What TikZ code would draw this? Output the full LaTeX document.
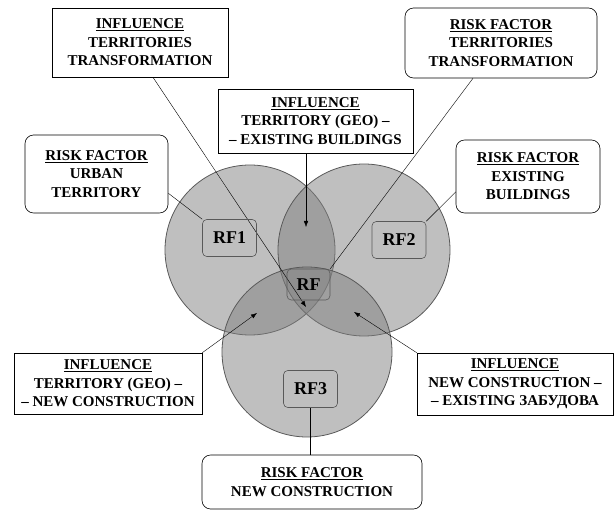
\documentclass[tikz,border=0pt]{standalone}
\usepackage{fontspec}
\setmainfont{Liberation Serif}
\usetikzlibrary{backgrounds,arrows.meta}

\begin{document}
\begin{tikzpicture}[x=1pt,y=-1pt,line width=0.6pt]
    % `infobox' is used for the INFLUENCE boxes (square corners).
    % `riskbox' is used for the RISK FACTOR boxes (rounded corners).
    % `rfbox' is used for the small RF labels inside the circles.
    % `zone' is used for the three grey circles.
    \tikzstyle{infobox} = [draw,fill=white,align=center,inner sep=0pt,font=\fontsize{15}{18.5}\selectfont\bfseries]
    \tikzstyle{riskbox} = [infobox,rounded corners=3mm]
    \tikzstyle{rfbox} = [draw=black!65,rounded corners=1.5mm,inner sep=0pt,minimum width=54pt,minimum height=37pt,font=\fontsize{18}{20}\selectfont\bfseries]
    \tikzstyle{zone} = [draw=black!65,line width=0.8pt,fill=black!50,fill opacity=0.5]
    \tikzstyle{pointer} = [-{Latex[length=6pt,width=4.5pt]}]
    %
    \useasboundingbox (0,0) rectangle (615,510);
    % Influence boxes.
    \node[infobox,minimum width=176pt,minimum height=69pt] (infTT) at (140,42.5)
      {\underline{INFLUENCE}\\TERRITORIES\\TRANSFORMATION};
    \node[infobox,minimum width=195pt,minimum height=64pt] (infGB) at (315.5,121)
      {\underline{INFLUENCE}\\TERRITORY (GEO) –\\– EXISTING BUILDINGS};
    \node[infobox,minimum width=188pt,minimum height=61pt] (infNC) at (108,383.5)
      {\underline{INFLUENCE}\\TERRITORY (GEO) –\\– NEW CONSTRUCTION};
    \node[infobox,minimum width=196pt,minimum height=62pt] (infEZ) at (515,384)
      {\underline{INFLUENCE}\\NEW CONSTRUCTION –\\– EXISTING ЗАБУДОВА};
    % Risk factor boxes.
    \node[riskbox,minimum width=143pt,minimum height=78pt] (rfUT) at (96.5,174)
      {\underline{RISK FACTOR}\\URBAN\\TERRITORY};
    \node[riskbox,minimum width=192pt,minimum height=70pt] (rfTT) at (501,43)
      {\underline{RISK FACTOR}\\TERRITORIES\\TRANSFORMATION};
    \node[riskbox,minimum width=144pt,minimum height=73pt] (rfEB) at (528,176.5)
      {\underline{RISK FACTOR}\\EXISTING\\BUILDINGS};
    \node[riskbox,minimum width=220pt,minimum height=54pt] (rfNC) at (312,482)
      {\underline{RISK FACTOR}\\NEW CONSTRUCTION};
    % RF labels.
    \node[rfbox] (rf1) at (229.5,238) {RF1};
    \node[rfbox] (rf2) at (399,240) {RF2};
    \node[rfbox,minimum width=43pt,minimum height=31pt] (rf) at (308.5,284.5) {RF};
    \node[rfbox] (rf3) at (310.5,389) {RF3};
    % Arrow tips.
    \coordinate (tipTT) at (306,307);
    \coordinate (tipGB) at (306,227);
    \coordinate (tipNC) at (257,313);
    \coordinate (tipEZ) at (354,312);
    \begin{pgfonlayer}{background}
        % Draw circles.
        \path[zone] (250,250) circle[radius=85pt];
        \path[zone] (364,250) circle[radius=86pt];
        \path[zone] (307,352) circle[radius=85pt];
        % Draw lines.
        \draw[pointer] ([xshift=13pt]infTT.south) -- (tipTT);
        \draw[pointer] (infGB.south -| tipGB) -- (tipGB);
        \draw[pointer] (infNC.north east) -- (tipNC);
        \draw[pointer] (infEZ.north west) -- (tipEZ);
        \draw (rfUT.-15) -- (rf1.north west);
        \draw ([xshift=-28pt]rfTT.south) -- (rf.north east);
        \draw (rfEB.192) -- (rf2.north east);
        \draw (rf3.south) -- (rf3.south |- rfNC.north);
    \end{pgfonlayer}
\end{tikzpicture}
\end{document}
